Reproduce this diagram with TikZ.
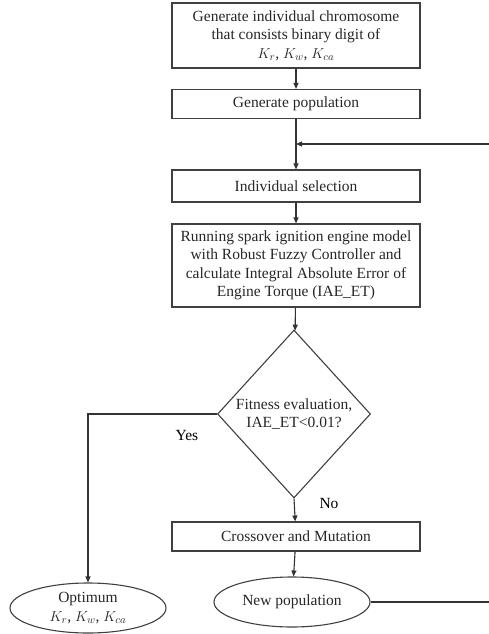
\documentclass[tikz,border=0pt]{standalone}
\usepackage{fontspec}
\setmainfont{Liberation Serif}
\usetikzlibrary{shapes.geometric,arrows.meta}
\tikzset{
  stepbox/.style={draw=black!75,line width=1.1pt,minimum width=248pt,inner sep=0pt,
    align=center,text=black!85},
  decide/.style={draw=black!75,line width=1.1pt,diamond,aspect=0.91,minimum width=153pt,
    minimum height=168pt,inner sep=0pt,align=center,text=black!85},
  oval/.style={draw=black!75,line width=1.1pt,ellipse,minimum width=156pt,minimum height=50pt,
    inner sep=0pt,align=center,text=black!85},
  flow/.style={draw=black!80,line width=1.1pt,-{Triangle[length=6pt,width=5pt]}}
}
\begin{document}
\begin{tikzpicture}[x=1pt,y=-1pt,font=\fontsize{15.5}{18.5}\selectfont]
      \useasboundingbox (0,0) rectangle (489,634);
      \node[stepbox,minimum height=65pt] (chrom) at (296,35.5)
        {Generate individual  chromosome\\ that consists binary digit of\\ $K_r$, $K_w$, $K_{ca}$};
      \node[stepbox,minimum height=29pt] (pop) at (296,104) {Generate population};
      \node[stepbox,minimum height=32pt] (sel) at (296,186) {Individual selection};
      \node[stepbox,minimum height=83pt] (run) at (296,265.5)
        {Running spark ignition engine model\\ with Robust Fuzzy Controller and\\
         calculate Integral  Absolute Error of\\ Engine Torque (IAE\_ET)};
      \node[decide] (fit) at (294,414) {Fitness evaluation,\\ IAE\_ET<0.01?};
      \node[stepbox,minimum height=29pt] (cross) at (296,536.5) {Crossover and Mutation};
      \node[oval] (newpop) at (292,602) {New population};
      \node[oval] (opt) at (88,608) {Optimum\\ $K_r$, $K_w$, $K_{ca}$};
      \node (yes) at (187,435) {Yes};
      \node (no) at (329,503) {No};
      \coordinate (fbin) at (489,144);
      \coordinate (fbout) at (489,602);
      \coordinate (join) at (fbin -| pop.south);
      \begin{scope}[flow]
        \draw (chrom) to (pop);
        \draw (pop) to (sel);
        \draw (fbin) to (join);
        \draw (sel) to (run);
        \draw (run) to (fit);
        \draw (fit.west) -| (opt.north);
        \draw (fit.south) to (cross);
        \draw (cross) to (newpop);
        \draw[-] (newpop) to (fbout);
      \end{scope}
    \end{tikzpicture}
\end{document}
